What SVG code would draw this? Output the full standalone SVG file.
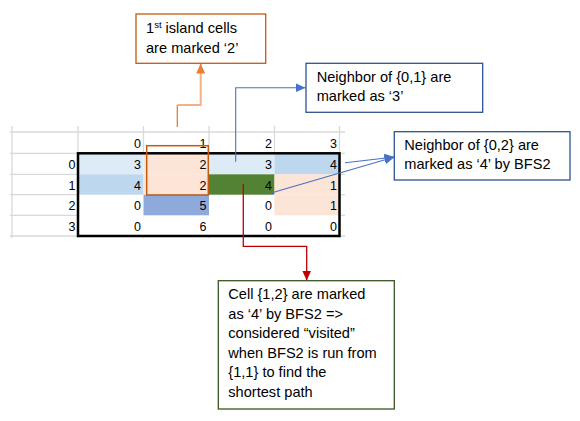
<svg xmlns="http://www.w3.org/2000/svg" width="580" height="421" viewBox="0 0 580 421">
<style>
text{font-family:"Liberation Sans",Arial,sans-serif;fill:#000}
.num{font-size:12.5px;text-anchor:end;fill:#1a1a1a}
.lbl{font-size:14.6px}
.grid{stroke:#d9d9d9;stroke-width:1.3;fill:none}
.box{fill:#fff;stroke-width:1.3}
</style>
<defs>
<marker id="ab" markerUnits="userSpaceOnUse" markerWidth="10" markerHeight="10" viewBox="0 0 10 10" refX="10" refY="5" orient="auto"><path d="M0,0.5 L10,5 L0,9.5 z" fill="#4472c4"/></marker>
<marker id="ao" markerUnits="userSpaceOnUse" markerWidth="10" markerHeight="10" viewBox="0 0 10 10" refX="10" refY="5" orient="auto"><path d="M0,0.5 L10,5 L0,9.5 z" fill="#ed7d31"/></marker>
<marker id="ar" markerUnits="userSpaceOnUse" markerWidth="10" markerHeight="10" viewBox="0 0 10 10" refX="10" refY="5" orient="auto"><path d="M0,0.5 L10,5 L0,9.5 z" fill="#c00000"/></marker>
</defs>
<rect width="580" height="421" fill="#fff"/>

<g id="table">
<g class="grid">
<path d="M12,126V238M78,126V238M143.5,126V238M209,126V238M274.5,126V238M339.5,126V238"/>
<path d="M10,132H345M10,153.3H345M10,174.3H345M10,194.7H345M10,215.3H345M10,236H345"/>
</g>
<rect x="78" y="153.3" width="261.5" height="82.7" fill="#fff"/>
<rect x="78" y="153.3" width="65.5" height="21" fill="#ddebf7"/>
<rect x="143.5" y="153.3" width="65.5" height="21" fill="#fce4d6"/>
<rect x="209" y="153.3" width="65.5" height="21" fill="#ddebf7"/>
<rect x="274.5" y="153.3" width="65" height="21" fill="#bdd7ee"/>
<rect x="78" y="174.3" width="65.5" height="20.4" fill="#bdd7ee"/>
<rect x="143.5" y="174.3" width="65.5" height="20.4" fill="#fce4d6"/>
<rect x="209" y="174.3" width="65.5" height="20.4" fill="#548235"/>
<rect x="274.5" y="174.3" width="65" height="20.4" fill="#fce4d6"/>
<rect x="143.5" y="194.7" width="65.5" height="20.6" fill="#8ea9db"/>
<rect x="274.5" y="194.7" width="65" height="20.6" fill="#fce4d6"/>
<rect x="78" y="153.3" width="261.5" height="82.7" fill="none" stroke="#000" stroke-width="2.5"/>
<g class="num">
<text x="141" y="148">0</text><text x="206.5" y="148">1</text><text x="272" y="148">2</text><text x="337" y="148">3</text>
<text x="75.5" y="169">0</text><text x="75.5" y="189.5">1</text><text x="75.5" y="210">2</text><text x="75.5" y="231">3</text>
<text x="141" y="169">3</text><text x="206.5" y="169">2</text><text x="272" y="169">3</text><text x="337" y="169">4</text>
<text x="141" y="189.5">4</text><text x="206.5" y="189.5">2</text><text x="272" y="189.5">4</text><text x="337" y="189.5">1</text>
<text x="141" y="210">0</text><text x="206.5" y="210">5</text><text x="272" y="210">0</text><text x="337" y="210">1</text>
<text x="141" y="231">0</text><text x="206.5" y="231">6</text><text x="272" y="231">0</text><text x="337" y="231">0</text>
</g>
<rect id="island" x="146.7" y="145.7" width="61.6" height="49.3" fill="none" stroke="#c55a11" stroke-width="1.5"/>
</g>

<g id="connectors" fill="none">
<path d="M177.3,127V105" stroke="#ed7d31" stroke-width="1.3"/>
<path d="M177.3,105H200.7V63.5" stroke="#f4b183" stroke-width="2" marker-end="url(#ao)"/>
<path d="M235.7,161.7V87.7H305.5" stroke="#4472c4" stroke-width="1.1" marker-end="url(#ab)"/>
<path d="M345,162.7L394.5,157" stroke="#4472c4" stroke-width="1.1" marker-end="url(#ab)"/>
<path d="M272,192.7L394.5,157" stroke="#4472c4" stroke-width="1.1" marker-end="url(#ab)"/>
<path d="M243.3,184V246.3H306.7V280.5" stroke="#c00000" stroke-width="1.3" marker-end="url(#ar)"/>
</g>

<g id="callout-island">
<rect class="box" x="136" y="14" width="129.7" height="49.3" stroke="#c55a11"/>
<text class="lbl" x="146" y="33">1<tspan font-size="9.5" dy="-5.5">st</tspan><tspan dy="5.5"> island cells</tspan></text>
<text class="lbl" x="146" y="53">are marked ‘2’</text>
</g>

<g id="callout-neighbor01">
<rect class="box" x="306" y="63.3" width="176.7" height="49" stroke="#2f528f"/>
<text class="lbl" x="316.7" y="82">Neighbor of {0,1} are</text>
<text class="lbl" x="316.7" y="100.5">marked as ‘3’</text>
</g>

<g id="callout-neighbor02">
<rect class="box" x="394.3" y="131.7" width="175.7" height="48.3" stroke="#2f528f"/>
<text class="lbl" x="404.3" y="150">Neighbor of {0,2} are</text>
<text class="lbl" x="404.3" y="168.5">marked as ‘4’ by BFS2</text>
</g>

<g id="callout-cell12">
<rect class="box" x="218.3" y="280.7" width="176" height="128.3" stroke="#385723"/>
<text class="lbl" x="228.3" y="299">Cell {1,2} are marked</text>
<text class="lbl" x="228.3" y="318.5">as ‘4’ by BFS2 =&gt;</text>
<text class="lbl" x="228.3" y="338">considered “visited”</text>
<text class="lbl" x="228.3" y="357.7">when BFS2 is run from</text>
<text class="lbl" x="228.3" y="377.3">{1,1} to find the</text>
<text class="lbl" x="228.3" y="396.7">shortest path</text>
</g>
</svg>
